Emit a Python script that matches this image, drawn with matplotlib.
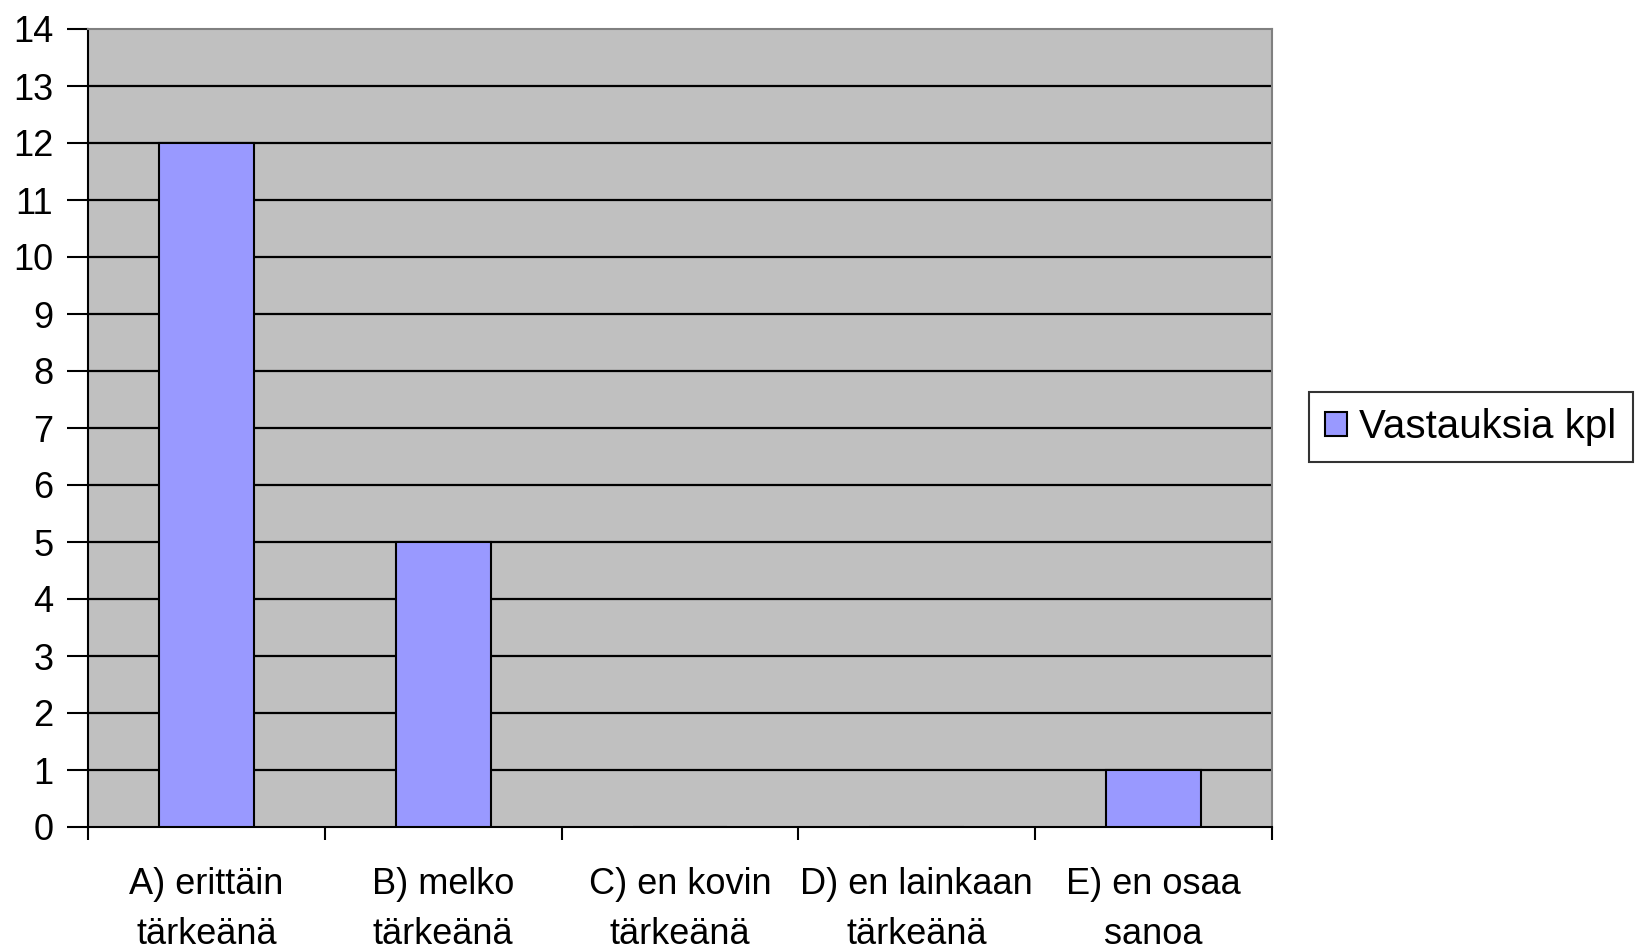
import matplotlib
matplotlib.use("Agg")
import matplotlib.pyplot as plt
import numpy as np

categories = ["A) erittäin\ntärkeänä", "B) melko\ntärkeänä", "C) en kovin\ntärkeänä",
              "D) en lainkaan\ntärkeänä", "E) en osaa\nsanoa"]
values = [12, 5, 0, 0, 1]
series_name = "Vastauksia kpl"

plt.rcParams["font.family"] = ["Liberation Sans", "DejaVu Sans"]

fig = plt.figure(figsize=(16.38, 9.5), dpi=100)
ax = fig.add_axes([88 / 1638, 1 - 827 / 950, (1272 - 88) / 1638, (827 - 29) / 950])
ax.set_facecolor("#C0C0C0")

x = np.arange(len(categories))
ax.bar(x, values, width=0.4, color="#9999FF", edgecolor="black", linewidth=1.5,
       label=series_name, zorder=3)

ax.set_xlim(-0.5, len(categories) - 0.5)
ax.set_ylim(0, 14)
ax.set_yticks(range(0, 15))
for yv in range(1, 14):
    ax.axhline(yv, color="black", lw=1.6, zorder=1)

# ticks at category boundaries, labels at centres
ax.set_xticks(np.arange(-0.5, len(categories)), minor=False)
ax.set_xticklabels([])
ax.set_xticks(x, minor=True)
ax.set_xticklabels(categories, minor=True, fontsize=26, linespacing=1.55)
ax.tick_params(axis="x", which="minor", length=0, pad=29)
ax.tick_params(axis="x", which="major", length=9, width=1.5, direction="out")
ax.tick_params(axis="y", length=15, width=1.5, direction="out", labelsize=26, pad=10)

for s in ["top", "right"]:
    ax.spines[s].set_color("#808080")
    ax.spines[s].set_linewidth(1.5)
for s in ["left", "bottom"]:
    ax.spines[s].set_color("black")
    ax.spines[s].set_linewidth(1.5)

leg = fig.legend(loc="center left", bbox_to_anchor=(1309 / 1638, 1 - 427 / 950),
                 fontsize=29, frameon=True, fancybox=False, handlelength=0.55,
                 handleheight=0.55, handletextpad=0.3, borderpad=0.4, borderaxespad=0)
leg.get_frame().set_edgecolor("black")
leg.get_frame().set_linewidth(1.5)

fig.savefig("out.png", dpi=100, facecolor="white")
